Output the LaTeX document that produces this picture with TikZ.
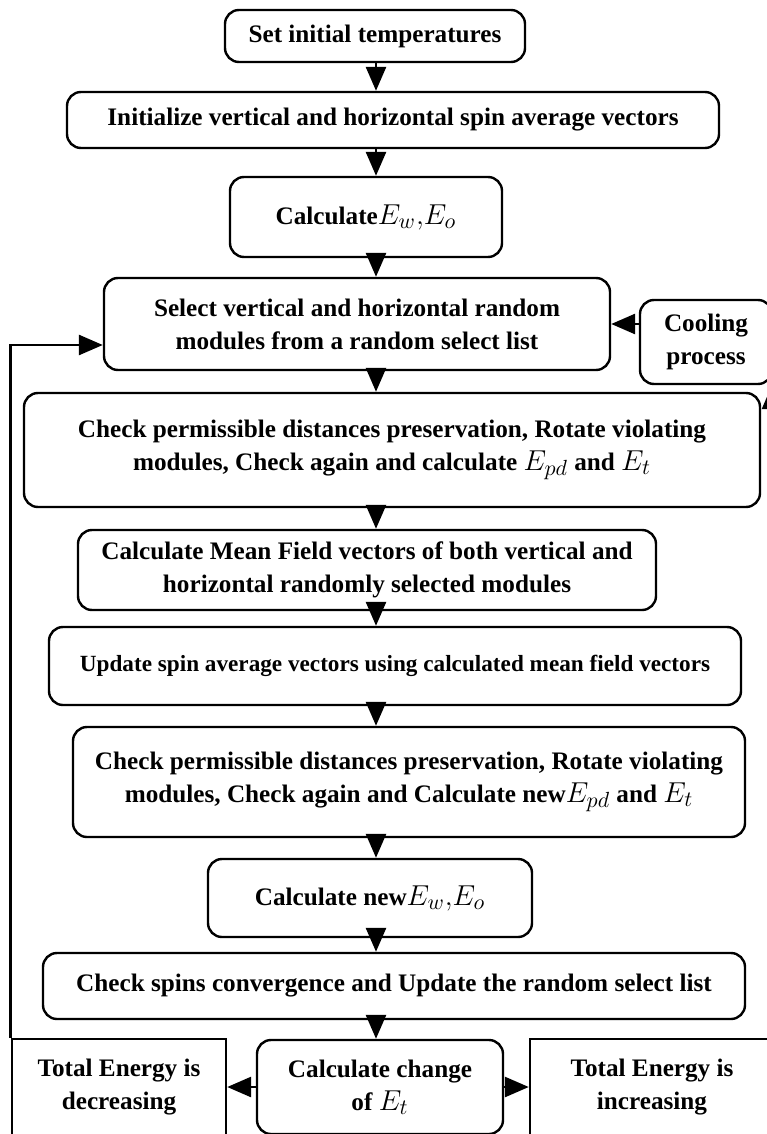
\documentclass[tikz,border=0pt]{standalone}
\usepackage{fontspec}
\setmainfont{Liberation Serif}
\usetikzlibrary{arrows.meta}
\newcommand{\emath}[1]{{\fontsize{15}{16.5}\selectfont$#1$}}

\begin{document}
\begin{tikzpicture}[node distance=50pt,
    stepbox/.style={draw, rounded corners=7pt, line width=1.2pt, align=center, inner sep=2pt,
      font=\fontsize{12.6}{16.5}\selectfont\bfseries},
    endbox/.style={draw, line width=1.2pt, align=center, inner sep=2pt,
      font=\fontsize{12.6}{16.5}\selectfont\bfseries},
    arr/.style={-{Triangle[length=12pt,width=10pt]}, line width=1.4pt}]
      \useasboundingbox (0,0) rectangle (383pt,-567pt);
      \coordinate (axis) at (188pt,0);

      % Main steps
      \node (set) [stepbox, minimum width=150pt, minimum height=26pt] at (187.5pt,-18pt) {Set initial temperatures};
      \node (init) [below of=set, stepbox, minimum width=326pt, minimum height=28pt, xshift=9pt, yshift=8pt] {Initialize vertical and horizontal spin average vectors};
      \node (calc) [below of=init, stepbox, minimum width=136pt, minimum height=40pt, xshift=-13.5pt, yshift=1.5pt] {Calculate\emath{E_w{,}E_o}};
      \node (select) [below of=calc, stepbox, minimum width=253pt, minimum height=46pt, xshift=-4.5pt, yshift=-3.5pt] {Select vertical and horizontal random\\modules from a random select list};
      \node (cool) [right of=select, stepbox, minimum width=66pt, minimum height=42pt, xshift=124.5pt, yshift=-9pt] {Cooling\\process};
      \node (check1) [below of=select, stepbox, minimum width=368pt, minimum height=57pt, xshift=17.5pt, yshift=-13pt] {Check permissible distances preservation, Rotate violating\\modules, Check again and calculate \emath{E_{pd}} and \emath{E_t}};
      \node (mean) [below of=check1, stepbox, minimum width=289pt, minimum height=40pt, xshift=-12.5pt, yshift=-10pt] {Calculate Mean Field vectors of both vertical and\\horizontal randomly selected modules};
      \node (update) [below of=mean, stepbox, minimum width=346pt, minimum height=39pt, xshift=14pt, yshift=2pt, font=\fontsize{11.6}{14}\selectfont\bfseries] {Update spin average vectors using calculated mean field vectors};
      \node (check2) [below of=update, stepbox, minimum width=336pt, minimum height=55pt, xshift=7pt, yshift=-8pt] {Check permissible distances preservation, Rotate violating\\modules, Check again and Calculate new\emath{E_{pd}} and \emath{E_t}};
      \node (calcnew) [below of=check2, stepbox, minimum width=162pt, minimum height=39pt, xshift=-19.5pt, yshift=-8pt] {Calculate new\emath{E_w{,}E_o}};
      \node (spins) [below of=calcnew, stepbox, minimum width=351pt, minimum height=33pt, xshift=12pt, yshift=6pt] {Check spins convergence and Update the random select list};

      % Outcomes
      \node (change) [below of=spins, stepbox, minimum width=123pt, minimum height=47pt, xshift=-7pt, yshift=-0.5pt] {Calculate change\\of \emath{E_t}};
      \node (decr) [left of=change, endbox, minimum width=107pt, minimum height=48pt, xshift=-80.5pt] {Total Energy is\\decreasing};
      \node (incr) [right of=change, endbox, minimum width=122pt, minimum height=48pt, xshift=86pt] {Total Energy is\\increasing};

      % Arrows
      \draw[arr] (set.south -| axis) -- (init.north -| axis);
      \draw[arr] (init.south -| axis) -- (calc.north -| axis);
      \draw[arr] (calc.south -| axis) -- (select.north -| axis);
      \draw[arr] (select.south -| axis) -- (check1.north -| axis);
      \draw[arr] (check1.south -| axis) -- (mean.north -| axis);
      \draw[arr] (mean.south -| axis) -- (update.north -| axis);
      \draw[arr] (update.south -| axis) -- (check2.north -| axis);
      \draw[arr] (check2.south -| axis) -- (calcnew.north -| axis);
      \draw[arr] (calcnew.south -| axis) -- (spins.north -| axis);
      \draw[arr] (spins.south -| axis) -- (change.north -| axis);
      \draw[arr] (change.west) -- (decr.east);
      \draw[arr] (change.east) -- (incr.west);
      \draw[arr] (select.east -| cool.west) -- (select.east);
      \draw[arr] (decr.north west) |- ([yshift=-10.5pt]select.west);
      \draw[arr] (incr.east) -| ([xshift=33pt]cool.south);
\end{tikzpicture}
\end{document}
